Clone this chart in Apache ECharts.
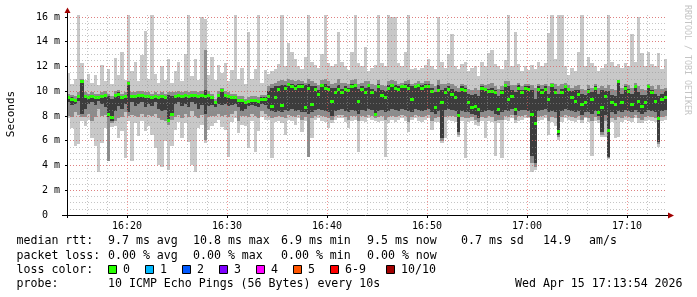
<!DOCTYPE html>
<html>
<head>
<meta charset="utf-8">
<script src="https://cdn.jsdelivr.net/npm/echarts@6/dist/echarts.min.js"></script>
<style>
html,body{margin:0;padding:0;background:#fff;}
#chart{width:697px;height:297px;}
</style>
</head>
<body>
<div id="chart"></div>
<script>
// time axis: seconds after 16:00:00; one sample every 20 s starting 16:14:00
const START_T = 840;
const STEP = 20;
const AXIS_MIN = 840, AXIS_MAX = 4440;
const Y_MAX = 16.16;
const PLOT_W = 600;
// labelled (10 minute) ticks, seconds after 16:00:00
const majorTicks = [1200, 1800, 2400, 3000, 3600, 4200];
// 2 minute grid positions between them
const minorTicks = [960, 1080, 1320, 1440, 1560, 1680, 1920, 2040, 2160, 2280, 2520, 2640, 2760, 2880,
  3120, 3240, 3360, 3480, 3720, 3840, 3960, 4080, 4320];

// ms values, one per sample (outer->inner smoke bands + median)
const maxV = [11.5,10.6,11.0,16.3,12.3,10.9,11.4,10.7,11.3,10.5,12.1,10.8,11.8,10.6,12.7,11.3,13.2,10.9,16.3,11.6,12.4,10.8,12.9,14.9,11.0,16.3,11.4,10.7,12.0,10.9,
12.6,10.7,11.6,12.4,10.8,13.0,16.3,11.2,12.6,10.9,16.0,15.8,11.3,12.8,10.9,12.1,11.5,12.3,10.8,11.7,16.2,11.0,11.9,10.6,14.8,11.0,11.8,16.2,10.7,11.7,
11.4,11.6,11.8,12.2,16.3,12.0,13.9,13.2,12.6,12.0,11.8,12.8,16.3,12.4,12.1,11.9,13.0,16.3,12.3,12.0,12.2,14.8,12.4,12.0,11.7,13.2,16.3,12.3,12.0,13.6,
11.6,11.9,12.1,16.3,12.3,12.0,16.3,16.0,16.0,12.3,12.0,13.2,16.3,11.8,11.9,11.7,11.9,12.1,12.6,12.0,11.8,16.0,12.4,11.9,13.0,14.6,12.0,11.8,12.2,12.4,
11.6,11.9,12.0,11.2,12.4,12.0,13.1,13.3,12.2,12.0,11.8,12.5,16.3,12.0,14.8,12.2,11.6,12.0,11.7,12.1,11.8,12.4,12.0,12.3,14.7,16.3,12.6,16.3,16.3,12.0,
11.3,11.9,11.6,13.2,16.3,12.0,12.8,12.3,12.0,11.6,11.9,12.2,16.3,12.4,12.0,12.2,11.9,12.3,12.0,14.6,12.4,16.0,13.1,12.0,13.2,12.2,12.0,13.1,11.8,12.6];
const p90 = [9.8,9.7,9.6,9.9,11.0,9.9,9.8,9.9,9.8,9.8,9.9,10.0,9.8,9.6,10.0,10.1,9.8,9.9,10.8,9.9,9.9,10.0,10.0,9.9,9.9,9.8,9.9,9.8,9.9,9.8,
9.9,9.9,9.9,10.0,9.9,10.0,9.9,10.0,10.0,9.9,10.0,13.3,10.0,9.8,9.4,10.0,10.3,10.0,9.9,9.8,9.8,9.6,9.6,9.4,9.5,9.6,9.6,9.5,9.7,9.7,
10.4,10.6,10.7,10.8,10.9,10.8,11.0,10.9,10.8,10.9,10.8,10.7,11.0,10.8,10.7,10.5,10.9,11.0,10.8,10.6,10.7,11.0,10.7,10.7,10.6,10.9,11.0,10.6,10.7,10.8,
10.8,10.6,10.5,10.9,10.5,10.4,10.8,10.9,10.8,10.6,10.7,10.8,10.9,10.6,10.7,10.8,10.7,10.8,10.8,10.6,10.4,10.9,10.6,10.6,10.7,10.6,10.4,10.3,10.6,10.5,
10.2,10.1,10.3,10.1,10.6,10.5,10.6,10.7,10.4,10.2,10.4,10.8,10.8,10.5,10.5,10.7,10.4,10.6,10.6,10.5,10.3,10.6,10.5,10.6,10.4,10.7,10.6,10.4,10.6,10.7,
10.5,10.3,10.4,10.5,10.2,10.1,10.5,10.3,10.6,10.3,10.4,10.3,10.5,10.2,10.1,10.9,10.3,10.6,10.5,10.3,10.7,10.4,10.2,10.1,10.6,10.4,10.2,10.5,10.2,10.3];
const p75 = [9.6,9.5,9.4,9.7,10.8,9.7,9.6,9.7,9.6,9.6,9.7,9.8,9.6,9.4,9.8,9.9,9.6,9.7,10.7,9.7,9.7,9.8,9.8,9.7,9.7,9.6,9.7,9.6,9.7,9.6,
9.7,9.6,9.7,9.8,9.7,9.8,9.7,9.8,9.8,9.7,9.8,10.1,9.8,9.6,9.2,9.8,10.1,9.8,9.7,9.6,9.6,9.4,9.4,9.2,9.3,9.4,9.4,9.3,9.5,9.5,
10.0,10.3,10.4,10.4,10.5,10.5,10.7,10.6,10.5,10.6,10.6,10.5,10.6,10.4,10.4,10.1,10.6,10.6,10.4,10.3,10.3,10.5,10.2,10.4,10.3,10.6,10.6,10.2,10.4,10.3,
10.6,10.2,10.0,10.6,10.1,10.0,10.5,10.6,10.5,10.4,10.5,10.6,10.6,10.4,10.5,10.6,10.5,10.6,10.6,10.3,9.9,10.5,10.1,10.3,10.4,10.2,10.0,9.9,10.4,10.3,
9.8,9.7,9.8,9.6,10.4,10.3,10.2,10.3,10.1,9.6,10.1,10.6,10.4,10.1,9.9,10.5,10.1,10.4,10.4,10.1,9.4,10.4,10.2,10.4,9.8,10.5,10.2,9.8,10.2,10.5,
10.3,10.0,10.1,10.1,9.8,9.7,10.2,9.9,10.4,9.8,10.1,10.0,10.0,9.7,9.6,10.8,9.8,10.4,10.2,9.8,10.5,9.9,9.7,9.7,10.5,10.1,9.8,9.6,9.8,10.0];
const median = [9.5,9.4,9.3,9.6,10.8,9.6,9.5,9.6,9.5,9.5,9.6,9.7,8.2,7.9,9.7,9.8,9.5,9.6,10.7,9.6,9.6,9.7,9.7,9.6,9.6,9.5,9.6,9.5,9.6,9.5,
7.7,8.2,9.6,9.7,9.6,9.7,9.6,9.7,9.7,9.6,9.7,9.6,9.7,9.5,9.1,9.7,10.1,9.7,9.6,9.5,9.5,9.3,9.3,9.1,9.2,9.3,9.3,9.2,9.4,9.4,
9.6,8.8,9.5,10.2,8.9,10.3,10.6,10.4,10.3,10.4,10.4,8.7,10.3,9.0,10.2,9.8,10.5,10.3,10.2,9.2,9.9,10.2,9.9,10.2,10.1,10.4,10.5,9.2,10.2,9.9,
10.5,9.9,8.2,10.4,9.7,9.5,10.3,10.5,10.3,10.2,10.4,10.4,10.3,9.4,10.4,10.5,10.3,10.4,10.4,10.0,8.7,10.1,9.1,9.9,10.2,9.8,9.5,8.1,10.2,10.1,
9.1,8.7,8.8,8.6,10.3,10.2,10.0,10.0,9.9,8.6,9.9,10.5,9.4,9.6,8.6,10.3,9.9,10.3,10.2,8.2,7.4,10.2,9.9,10.2,9.4,10.5,9.9,6.8,9.9,10.4,
10.2,9.5,9.2,9.8,9.0,9.1,10.0,9.4,10.3,8.3,8.7,9.6,6.9,9.1,9.0,10.8,9.1,10.3,10.0,9.0,10.4,9.2,8.8,9.1,10.4,9.9,9.2,7.8,9.4,9.5];
const p25 = [9.1,8.9,9.0,9.2,8.2,8.6,9.0,9.1,8.9,9.2,9.0,8.7,7.9,7.6,8.4,8.8,8.6,9.0,8.3,9.1,8.8,9.0,9.1,8.7,9.0,8.8,9.1,8.6,8.4,8.5,
7.5,8.0,9.0,9.1,8.8,9.0,8.7,9.1,9.0,8.6,8.9,8.2,8.8,8.9,8.7,9.0,8.9,9.0,8.8,8.9,9.0,8.7,8.4,8.6,8.8,8.9,8.8,8.7,9.0,8.9,
8.6,8.4,8.3,8.4,8.3,8.5,8.4,8.6,8.4,8.5,8.3,8.3,8.2,8.3,8.5,8.6,8.5,8.4,8.3,8.0,8.4,8.5,8.6,8.4,8.3,8.5,8.4,8.2,8.5,8.4,
8.6,8.5,8.0,8.4,8.5,8.3,8.4,8.6,8.5,8.4,8.6,8.5,8.4,8.3,8.6,8.5,8.4,8.5,8.6,8.3,8.2,8.4,6.2,8.5,8.6,8.5,8.4,6.7,8.4,8.3,
8.3,8.2,8.1,7.8,8.3,8.4,8.5,8.4,8.2,8.1,8.3,8.5,8.4,8.6,8.1,8.4,8.5,8.5,8.4,4.8,4.2,8.4,8.5,8.6,8.3,8.4,8.3,6.5,8.4,8.6,
8.5,8.4,8.3,8.4,8.1,8.3,8.3,8.2,8.4,8.0,6.7,8.1,4.7,8.3,8.2,8.4,8.3,8.5,8.4,8.3,8.5,8.3,8.2,8.3,8.5,8.4,8.3,5.9,8.4,8.5];
const p10 = [8.0,7.9,8.3,8.1,7.9,7.9,8.2,7.6,7.9,8.6,8.0,8.1,4.4,7.4,7.6,7.8,7.9,8.3,8.0,8.1,8.0,7.9,8.2,7.9,8.1,8.0,8.2,7.8,7.7,7.6,
7.3,7.7,7.9,8.1,7.8,8.2,7.9,8.4,8.0,7.8,8.1,6.1,7.9,8.0,8.0,8.2,8.0,8.1,7.9,8.2,8.4,7.6,8.0,8.0,7.9,8.2,8.0,7.8,8.4,8.2,
8.0,7.8,7.9,8.0,7.9,7.8,8.1,8.0,7.9,8.1,7.7,7.9,4.7,7.8,8.0,8.1,8.0,7.9,7.8,7.7,8.0,8.1,8.1,7.9,7.7,8.0,8.0,7.6,8.0,7.9,
8.1,8.0,7.8,7.9,8.0,7.7,7.9,8.0,7.9,8.0,8.1,8.0,7.5,7.9,8.1,8.0,7.9,8.0,8.1,7.6,7.8,7.9,6.0,7.9,8.0,8.0,7.9,6.5,7.9,7.8,
7.8,7.9,7.7,7.5,7.9,7.8,8.0,7.9,7.6,7.7,7.7,8.0,7.9,8.1,7.7,8.0,8.0,8.1,7.9,4.2,3.9,7.9,8.0,8.1,7.6,7.9,7.8,6.3,7.9,8.1,
8.0,7.9,7.8,8.0,7.7,7.9,7.8,7.6,7.9,7.7,6.5,7.6,4.6,7.8,7.7,7.9,7.8,8.0,7.9,7.8,8.1,7.8,7.7,7.9,8.0,7.9,7.8,5.7,7.9,8.0];
const minV = [7.8,7.0,5.6,5.7,7.6,7.2,7.7,6.2,5.6,3.5,5.8,7.0,4.4,7.1,7.2,6.2,6.8,4.6,7.6,4.4,7.4,6.4,7.6,6.8,7.2,6.5,5.4,4.0,3.9,6.0,
3.6,5.6,6.9,7.5,6.2,7.4,5.9,4.0,3.5,7.0,7.3,5.8,6.9,7.2,7.4,7.7,7.1,6.9,4.7,7.5,7.8,6.6,7.3,7.2,5.4,7.6,5.1,6.8,7.9,7.7,
7.7,4.6,7.5,7.6,7.4,6.5,7.7,7.6,7.3,7.8,6.7,7.6,4.7,6.2,7.7,7.8,7.6,7.5,7.0,7.4,7.7,7.8,7.8,7.5,7.0,7.6,7.7,5.1,7.6,7.5,
7.8,7.7,7.6,7.5,7.6,4.7,7.4,7.7,7.5,7.7,7.8,7.6,6.7,7.7,7.8,7.6,7.5,7.7,7.8,6.9,7.5,7.5,5.8,6.2,7.7,7.6,7.5,6.3,7.6,4.6,
7.5,7.6,7.3,7.2,7.6,6.2,7.6,7.5,4.8,7.4,4.6,7.7,7.6,7.8,7.4,7.6,7.7,7.8,7.8,3.5,3.6,7.6,7.7,7.8,6.5,7.5,7.2,6.1,7.5,7.8,
7.7,7.6,7.5,7.7,7.4,7.8,7.5,4.8,7.6,7.4,6.3,6.3,4.5,7.5,6.2,6.3,7.5,7.7,7.6,7.5,7.8,7.4,7.4,7.6,7.7,7.6,7.5,5.5,7.6,7.7];

// legend texts
const rowLabels = ['median rtt:', 'packet loss:', 'loss color:', 'probe:'];
const rttStats = ['9.7 ms avg', '10.8 ms max', '6.9 ms min', '9.5 ms now', '0.7 ms sd', '14.9', 'am/s'];
const lossStats = ['0.00 % avg', '0.00 % max', '0.00 % min', '0.00 % now'];
const lossLabels = ['0', '1', '2', '3', '4', '5', '6-9', '10/10'];
const lossColors = ['#26ff00', '#00b8ff', '#0059ff', '#7e00ff', '#ff00ff', '#ff5500', '#ff0000', '#a10000'];
const probeText = '10 ICMP Echo Pings (56 Bytes) every 10s';
const dateText = 'Wed Apr 15 17:13:54 2026';
const yTitle = 'Seconds';
const watermark = 'RRDTOOL / TOBI OETIKER';

const MONO = '"DejaVu Sans Mono", monospace';
const chart = echarts.init(document.getElementById('chart'), null, {renderer: 'canvas'});

const data = maxV.map((v, i) => [START_T + i * STEP, maxV[i], p90[i], p75[i], median[i], p25[i], p10[i], minV[i]]);

function fmtTime(t) {
  const h = 16 + Math.floor(t / 3600);
  const m = Math.floor((t % 3600) / 60);
  return h + ':' + (m < 10 ? '0' : '') + m;
}

const graphics = [];
const LY = [241, 255.5, 269.5, 284];
const txt = (x, y, s, extra) => Object.assign({type: 'text', x: x, y: y, silent: true,
  style: Object.assign({text: s, fill: '#000', font: '11.6px ' + MONO, textVerticalAlign: 'middle'}, extra || {})});
rowLabels.forEach((s, i) => graphics.push(txt(16.5, LY[i], s)));
const rttX = [108, 193, 281, 367, 461, 543, 589];
rttStats.forEach((s, i) => graphics.push(txt(rttX[i], LY[0], s)));
const lossX = [108, 193, 281, 367];
lossStats.forEach((s, i) => graphics.push(txt(lossX[i], LY[1], s)));
const boxX = [108, 145, 182, 219, 256, 293, 330, 386];
lossLabels.forEach((s, i) => {
  graphics.push({type: 'rect', silent: true, shape: {x: boxX[i] + 0.5, y: 265.5, width: 8, height: 8},
    style: {fill: lossColors[i], stroke: '#000', lineWidth: 1}});
  graphics.push(txt(boxX[i] + 15, LY[2], s));
});
graphics.push(txt(108, LY[3], probeText));
graphics.push(txt(515, LY[3], dateText));
graphics.push({type: 'text', x: 11, y: 114, rotation: Math.PI / 2, silent: true,
  style: {text: yTitle, fill: '#000', font: '11px ' + MONO, textAlign: 'center', textVerticalAlign: 'middle'}});
graphics.push({type: 'text', x: 687, y: 5, rotation: -Math.PI / 2, silent: true,
  style: {text: watermark, fill: '#c4c4c4', font: '8.3px ' + MONO, textAlign: 'left', textVerticalAlign: 'middle'}});
// axis lines (with rrdtool-style overhang) and arrows
graphics.push({type: 'line', silent: true, shape: {x1: 67.5, y1: 218, x2: 67.5, y2: 12}, style: {stroke: '#000', lineWidth: 1}, z: 10});
graphics.push({type: 'line', silent: true, shape: {x1: 62, y1: 215.5, x2: 669, y2: 215.5}, style: {stroke: '#000', lineWidth: 1}, z: 10});
graphics.push({type: 'polygon', silent: true, shape: {points: [[64.5, 13], [70.5, 13], [67.5, 7.5]]}, style: {fill: '#a00000'}, z: 10});
graphics.push({type: 'polygon', silent: true, shape: {points: [[668, 212.5], [668, 218.5], [674, 215.5]]}, style: {fill: '#a00000'}, z: 10});

const minorColor = 'rgba(150,150,150,0.55)';
const majorColor = 'rgba(235,90,90,0.65)';
const minorGrid = {show: true, showMinLine: false, showMaxLine: false, lineStyle: {color: minorColor, type: [1, 2], width: 1}};
// half a pixel in axis units, so 1px grid lines land on a single pixel column
const HALF_PX = (AXIS_MAX - AXIS_MIN) / PLOT_W / 2;

const vLines = (vals, color, z) => ({
  type: 'line', xAxisIndex: 0, yAxisIndex: 0, data: [], z: z, silent: true,
  markLine: {
    silent: true, symbol: 'none', animation: false,
    label: {show: false}, emphasis: {disabled: true},
    lineStyle: {color: color, type: [1, 2], width: 1},
    data: vals.map(v => [{xAxis: v + HALF_PX, yAxis: Y_MAX}, {xAxis: v + HALF_PX, yAxis: 0}])
  }
});

chart.setOption({
  animation: false,
  backgroundColor: '#ffffff',
  grid: {left: 67, top: 15, width: PLOT_W, height: 200, containLabel: false},
  xAxis: [
    {type: 'value', min: AXIS_MIN, max: AXIS_MAX, interval: 120, z: 5,
      axisLine: {show: false},
      axisTick: {show: true, length: 3, customValues: majorTicks, lineStyle: {color: '#000'}},
      axisLabel: {show: true, margin: 6, customValues: majorTicks,
        formatter: fmtTime, color: '#000', fontFamily: MONO, fontSize: 10},
      splitLine: {show: false}}
  ],
  yAxis: [
    {type: 'value', min: 0, max: Y_MAX, interval: 0.5, z: 5,
      axisLine: {show: false}, axisTick: {show: false}, axisLabel: {show: false},
      splitLine: minorGrid},
    {type: 'value', min: 0, max: Y_MAX, interval: 2, position: 'left', z: 6,
      axisLine: {show: false},
      axisTick: {show: true, length: 2, lineStyle: {color: '#000'}},
      axisLabel: {show: true, margin: 7, showMaxLabel: false, color: '#000', fontFamily: MONO, fontSize: 10,
        formatter: v => (Math.abs(v % 2) > 1e-6 ? '' : (v === 0 ? '0  ' : v + ' m'))},
      splitLine: {show: true, showMinLine: false, showMaxLine: false, lineStyle: {color: majorColor, type: [1, 2], width: 1}}}
  ],
  series: [{
    type: 'custom',
    xAxisIndex: 0, yAxisIndex: 0,
    clip: true,
    z: 2,
    encode: {x: 0, y: [1, 7]},
    data: data,
    renderItem: function (params, api) {
      const t = api.value(0);
      const xa = Math.round(api.coord([t, 0])[0]);
      const xb = Math.round(api.coord([t + STEP, 0])[0]);
      const w = xb - xa;
      const band = (hi, lo, color) => {
        const y1 = Math.round(api.coord([t, hi])[1]);
        const y2 = Math.round(api.coord([t, lo])[1]);
        return {type: 'rect', shape: {x: xa, y: y1, width: w, height: Math.max(1, y2 - y1)}, style: {fill: color}};
      };
      const ym = Math.round(api.coord([t, api.value(4)])[1]);
      return {type: 'group', children: [
        band(api.value(1), api.value(7), '#c8c8c8'),
        band(api.value(2), api.value(6), '#8c8c8c'),
        band(api.value(3), api.value(5), '#3c3c3c'),
        {type: 'rect', shape: {x: xa, y: ym - 1, width: w, height: 3}, style: {fill: '#26ff00'}}
      ]};
    }
  },
  vLines(minorTicks, minorColor, 9),
  vLines(majorTicks, majorColor, 10)
  ],
  graphic: graphics
});
</script>
</body>
</html>
